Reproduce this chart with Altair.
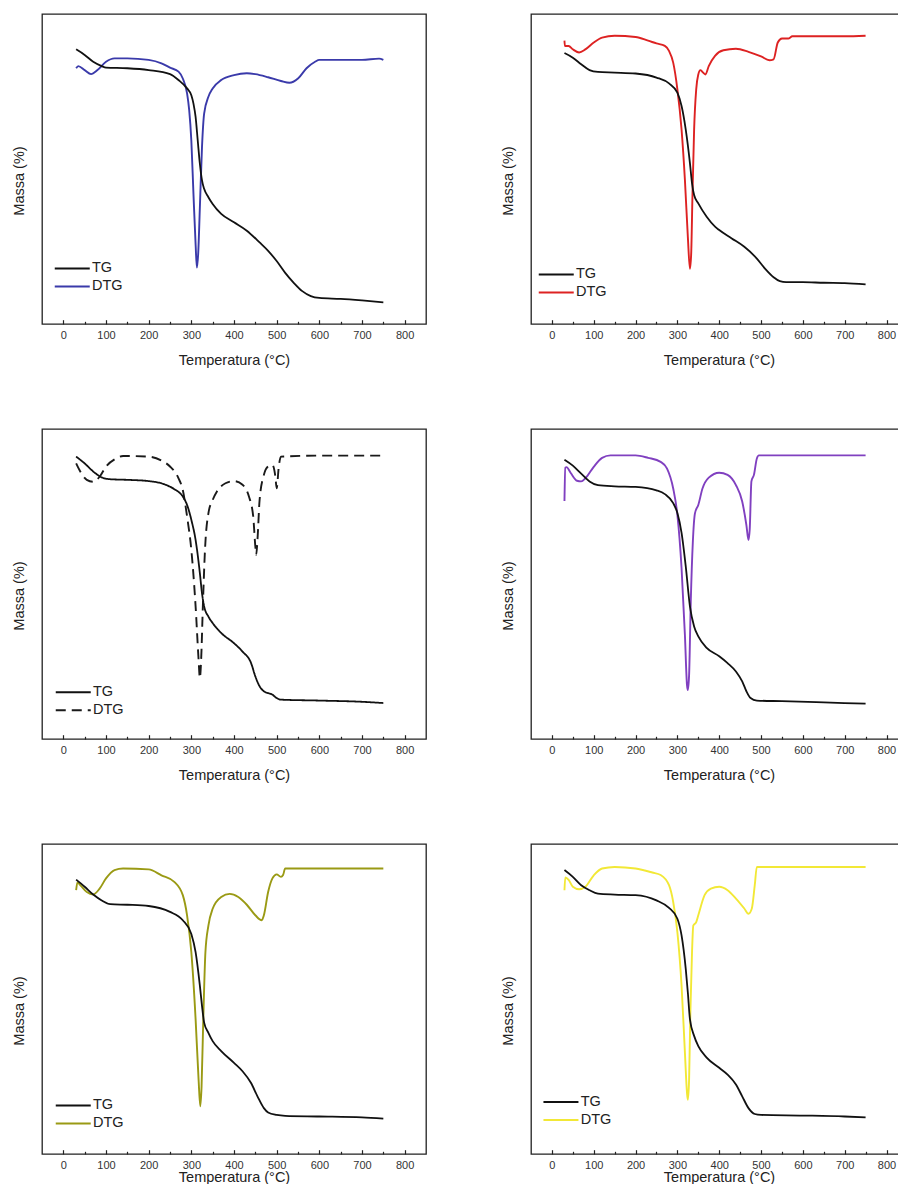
import altair as alt
import pandas as pd

FONT = "Liberation Sans"
X_TICKS = [0, 100, 200, 300, 400, 500, 600, 700, 800]
X_MINOR = list(range(0, 801, 50))
Y_TITLE = "Massa (%)"
X_TITLE = "Temperatura (°C)"
SERIES = ["TG", "DTG"]

# ---- Panel 1 (blue) ----
P1_TG_T = [30, 50, 70, 90, 100, 150, 200, 250, 270, 290, 300, 305, 310, 315, 320, 325, 330, 340, 350, 370, 400, 430, 460, 480, 500, 520, 540, 560, 580, 600, 650, 700, 750]
P1_TG_M = [88.6, 86.8, 84.6, 83.2, 82.7, 82.5, 81.9, 80.6, 78.7, 76.0, 73.8, 71.1, 66.8, 59.2, 51.7, 46.3, 43.6, 40.9, 38.7, 35.5, 32.8, 30.1, 26.3, 23.6, 20.3, 16.5, 13.3, 10.6, 9.0, 8.4, 8.1, 7.6, 7.0]
P1_DTG_T = [30, 35, 50, 65, 80, 100, 120, 150, 200, 230, 250, 270, 280, 290, 295, 300, 305, 310, 313, 316, 320, 325, 330, 340, 350, 370, 400, 430, 450, 480, 510, 530, 550, 570, 590, 600, 650, 700, 740, 750]
P1_DTG_V = [82.5, 83.2, 81.9, 80.6, 81.9, 84.6, 85.7, 85.7, 85.2, 84.1, 82.7, 81.4, 79.2, 74.4, 69.0, 59.2, 41.9, 25.7, 18.2, 22.5, 37.6, 57.1, 67.9, 73.3, 76.0, 78.7, 80.3, 80.9, 80.6, 79.6, 78.4, 77.8, 79.2, 82.5, 84.6, 85.2, 85.2, 85.2, 85.6, 85.2]

# ---- Panel 2 (red) ----
P2_TG_T = [30, 50, 70, 90, 110, 150, 200, 250, 280, 300, 310, 320, 330, 335, 340, 350, 370, 390, 400, 430, 460, 490, 510, 530, 545, 560, 600, 650, 700, 750]
P2_TG_M = [87.4, 85.9, 83.8, 81.9, 81.3, 81.1, 80.8, 79.5, 77.6, 74.6, 70.3, 62.7, 51.9, 45.4, 41.6, 38.9, 34.6, 31.4, 30.3, 27.6, 24.9, 21.1, 17.8, 15.1, 13.8, 13.5, 13.5, 13.3, 13.2, 12.8]
P2_DTG_T = [30, 31, 40, 50, 65, 80, 100, 120, 150, 200, 230, 250, 270, 280, 290, 300, 310, 318, 325, 330, 333, 336, 340, 345, 350, 355, 360, 367, 375, 390, 410, 440, 470, 500, 520, 530, 540, 550, 565, 575, 600, 700, 750]
P2_DTG_V = [91.4, 89.7, 89.7, 88.6, 87.6, 88.6, 90.8, 92.4, 93.0, 92.6, 91.4, 90.5, 89.7, 88.1, 84.3, 75.7, 62.7, 46.5, 28.1, 17.8, 22.7, 41.1, 62.7, 75.7, 80.5, 81.9, 81.3, 80.5, 83.2, 86.5, 88.3, 88.8, 87.8, 86.3, 85.1, 85.4, 90.8, 92.1, 92.1, 92.8, 92.8, 92.8, 93.0]

# ---- Panel 3 (dashed black) ----
P3_TG_T = [30, 50, 70, 90, 110, 150, 200, 240, 260, 280, 290, 300, 310, 320, 325, 330, 340, 350, 370, 400, 420, 440, 450, 460, 470, 490, 500, 510, 600, 700, 750]
P3_TG_M = [91.1, 88.9, 86.3, 84.4, 83.8, 83.6, 83.2, 82.0, 80.6, 78.2, 75.5, 70.7, 64.2, 53.5, 47.0, 42.8, 39.5, 37.4, 34.2, 30.9, 28.2, 24.5, 20.2, 17.0, 15.4, 14.3, 13.2, 12.7, 12.4, 12.0, 11.6]
P3_DTG_T = [30, 40, 55, 70, 85, 100, 120, 140, 200, 230, 250, 270, 280, 290, 300, 310, 317, 320, 323, 327, 332, 340, 350, 360, 380, 400, 420, 435, 445, 450, 452, 455, 460, 470, 480, 490, 497, 500, 505, 510, 600, 750]
P3_DTG_V = [88.9, 86.2, 83.6, 83.0, 84.6, 87.9, 90.2, 91.3, 91.1, 89.8, 87.9, 84.1, 80.3, 71.8, 61.0, 42.8, 25.6, 19.7, 25.6, 42.8, 61.0, 72.8, 77.1, 79.8, 82.5, 83.2, 82.0, 78.2, 71.8, 62.1, 59.4, 64.2, 77.1, 85.2, 87.9, 88.4, 84.6, 80.9, 87.9, 91.1, 91.4, 91.4]

# ---- Panel 4 (purple) ----
P4_TG_T = [30, 50, 70, 90, 110, 150, 200, 250, 270, 290, 300, 310, 320, 330, 340, 350, 370, 400, 420, 440, 455, 465, 475, 490, 550, 650, 750]
P4_TG_M = [90.1, 88.2, 85.6, 83.1, 81.9, 81.5, 81.3, 80.2, 79.0, 76.1, 72.9, 66.5, 55.7, 42.8, 36.3, 33.1, 29.4, 26.7, 24.5, 21.8, 18.6, 15.4, 13.2, 12.4, 12.2, 11.8, 11.4]
P4_DTG_T = [30, 32, 35, 45, 60, 70, 80, 100, 120, 140, 200, 230, 260, 275, 290, 300, 310, 318, 323, 325, 328, 332, 337, 342, 350, 360, 375, 400, 420, 440, 455, 465, 470, 473, 477, 483, 490, 495, 750]
P4_DTG_V = [76.8, 87.5, 87.7, 85.8, 83.3, 83.1, 84.1, 87.8, 90.7, 91.5, 91.5, 90.7, 89.4, 87.3, 80.8, 72.3, 55.1, 33.5, 17.4, 15.8, 20.6, 44.3, 63.7, 72.8, 75.5, 80.8, 84.3, 85.9, 85.2, 81.9, 76.6, 69.0, 64.2, 67.7, 83.1, 85.2, 90.5, 91.5, 91.5]

# ---- Panel 5 (olive) ----
P5_TG_T = [30, 50, 70, 90, 110, 150, 200, 250, 280, 300, 310, 320, 325, 330, 340, 350, 370, 400, 420, 440, 455, 470, 480, 500, 520, 600, 700, 750]
P5_TG_M = [88.5, 86.2, 83.7, 81.8, 80.6, 80.4, 80.0, 78.1, 75.4, 71.0, 65.1, 54.3, 47.8, 42.4, 39.1, 36.4, 33.2, 29.4, 26.7, 22.9, 18.6, 14.8, 13.4, 12.6, 12.3, 12.1, 11.8, 11.4]
P5_DTG_T = [30, 33, 40, 55, 70, 85, 100, 120, 140, 200, 230, 260, 280, 290, 300, 310, 317, 321, 324, 328, 333, 340, 350, 370, 390, 410, 430, 450, 465, 470, 480, 490, 500, 510, 515, 520, 750]
P5_DTG_V = [85.1, 87.6, 86.7, 84.5, 83.7, 85.6, 88.9, 91.6, 92.1, 91.8, 89.9, 87.8, 83.5, 77.0, 65.1, 43.5, 24.0, 15.4, 21.8, 43.5, 65.1, 73.7, 79.1, 82.9, 83.9, 82.9, 80.4, 77.0, 75.4, 77.0, 84.5, 88.9, 90.2, 89.4, 90.0, 92.1, 92.1]

# ---- Panel 6 (yellow) ----
P6_TG_T = [30, 50, 70, 90, 110, 150, 200, 250, 280, 300, 310, 320, 325, 330, 340, 350, 370, 400, 420, 440, 455, 470, 485, 500, 600, 700, 750]
P6_TG_M = [91.6, 89.4, 86.7, 85.1, 84.0, 83.7, 83.5, 81.8, 79.4, 75.9, 70.5, 59.7, 52.1, 43.5, 38.1, 34.8, 31.1, 27.8, 25.6, 22.4, 18.6, 14.8, 12.9, 12.6, 12.4, 12.1, 11.8]
P6_DTG_T = [30, 32, 40, 50, 65, 80, 100, 120, 150, 200, 240, 260, 280, 290, 300, 310, 318, 323, 325, 328, 331, 335, 338, 345, 350, 365, 380, 400, 420, 440, 460, 470, 478, 485, 490, 750]
P6_DTG_V = [85.1, 89.2, 88.4, 86.2, 85.4, 86.2, 89.9, 92.1, 92.6, 92.1, 90.8, 90.0, 86.7, 81.3, 71.6, 54.3, 32.7, 19.7, 17.5, 24.0, 45.6, 65.1, 73.7, 74.8, 77.0, 83.5, 85.6, 86.2, 85.1, 82.4, 79.2, 77.5, 79.2, 86.7, 92.6, 92.6]

COLORS = ["#3a3aaa", "#dd2222", "#1a1a1a", "#8040c0", "#9a9a14", "#f2e836"]

H = 310
LEFT_W, LEFT_DOMAIN = 384, [-50, 850]
RIGHT_W, RIGHT_DOMAIN = 376, [-50, 849]


def panel(tg_t, tg_m, dtg_t, dtg_v, color, legend_pos=None, dashed=False,
          title_pad=13, width=LEFT_W, domain=LEFT_DOMAIN):
    df = pd.DataFrame({
        "T": tg_t + dtg_t,
        "v": tg_m + dtg_v,
        "s": ["TG"] * len(tg_t) + ["DTG"] * len(dtg_t),
    })
    xs = alt.Scale(domain=domain, nice=False, zero=False)
    ys = alt.Scale(domain=[0, 100], nice=False, zero=False)
    if legend_pos is not None:
        leg = alt.Legend(
            orient="none", legendX=legend_pos[0], legendY=legend_pos[1], title=None,
            symbolType="M-1,0H6", symbolSize=100, symbolStrokeWidth=2,
            labelFontSize=14.5, labelFont=FONT, labelColor="#222",
            labelOffset=25, rowPadding=3, padding=0,
        )
    else:
        leg = None
    color_enc = alt.Color("s:N", sort=SERIES,
                          scale=alt.Scale(domain=SERIES, range=["#111111", color]),
                          legend=leg)
    extra = {}
    if dashed:
        extra["strokeDash"] = alt.StrokeDash("s:N", sort=SERIES,
                                             scale=alt.Scale(domain=SERIES, range=[[1, 0], [10, 6]]),
                                             legend=leg)

    label_axis = alt.Axis(
        orient="bottom", values=X_TICKS, ticks=False, tickSize=0, domain=False, grid=False,
        labelFont=FONT, labelFontSize=11, labelColor="#333", labelPadding=5,
        title=X_TITLE, titleFont=FONT, titleFontSize=14.5, titleFontWeight="normal",
        titleColor="#222", titlePadding=title_pad,
    )
    tick_axis = alt.Axis(
        orient="top", offset=-H, values=X_MINOR, labels=False, domain=False, grid=False,
        title=None, tickColor="#222", tickWidth=1.2, minExtent=0, maxExtent=0,
        tickSize={"condition": {"test": "datum.value % 100 === 0", "value": 4.3}, "value": 2.7},
    )
    y_axis = alt.Axis(
        labels=False, ticks=False, domain=False, grid=False, title=Y_TITLE,
        titleFont=FONT, titleFontSize=14.5, titleFontWeight="normal", titleColor="#222",
        titlePadding=16, titleY=166.5,
    )

    tg = alt.Chart(df).transform_filter("datum.s == 'TG'").mark_line(
        strokeWidth=1.8, interpolate="monotone"
    ).encode(
        x=alt.X("T:Q", scale=xs, axis=label_axis),
        y=alt.Y("v:Q", scale=ys, axis=y_axis),
        color=color_enc, **extra,
    )
    dtg = alt.Chart(df).transform_filter("datum.s == 'DTG'").mark_line(
        strokeWidth=1.9, interpolate="monotone"
    ).encode(
        x=alt.X("T:Q", scale=xs, axis=tick_axis),
        y=alt.Y("v:Q", scale=ys, axis=None),
        color=color_enc, **extra,
    )
    return alt.layer(dtg, tg).resolve_axis(x="independent", y="independent").properties(width=width, height=H)


R = dict(width=RIGHT_W, domain=RIGHT_DOMAIN)
p1 = panel(P1_TG_T, P1_TG_M, P1_DTG_T, P1_DTG_V, COLORS[0], (10.5, 247.2))
p2 = panel(P2_TG_T, P2_TG_M, P2_DTG_T, P2_DTG_V, COLORS[1], (5.5, 253.2), **R)
p3 = panel(P3_TG_T, P3_TG_M, P3_DTG_T, P3_DTG_V, COLORS[2], (11.5, 255.9), dashed=True)
p4 = panel(P4_TG_T, P4_TG_M, P4_DTG_T, P4_DTG_V, COLORS[3], None, **R)
p5 = panel(P5_TG_T, P5_TG_M, P5_DTG_T, P5_DTG_V, COLORS[4], (11.5, 254.2), title_pad=0)
p6 = panel(P6_TG_T, P6_TG_M, P6_DTG_T, P6_DTG_V, COLORS[5], (10.2, 250.8), title_pad=0, **R)

left = alt.vconcat(p1, p3, p5, spacing=60).resolve_scale(color="independent", strokeDash="independent")
right = alt.vconcat(p2, p4, p6, spacing=60).resolve_scale(color="independent", strokeDash="independent")

chart = alt.hconcat(left, right, spacing=72).properties(
    padding={"left": 2, "top": 5, "right": -10, "bottom": -1},
    background="white",
).resolve_scale(color="independent", strokeDash="independent").configure_view(
    stroke="#222", strokeWidth=1.3
)

chart.save("out.html", embed_options={"renderer": "svg", "actions": False})
